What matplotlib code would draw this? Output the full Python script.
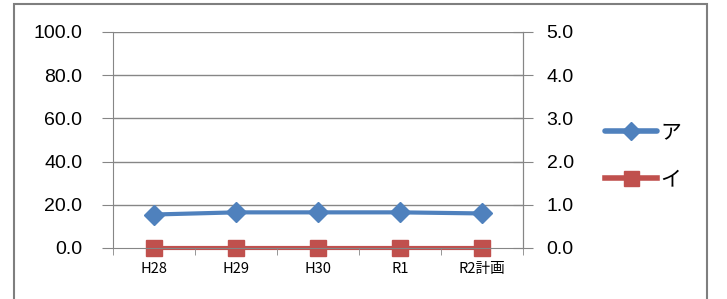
import matplotlib.pyplot as plt
import matplotlib as mpl
from matplotlib.patches import Rectangle
import numpy as np

mpl.rcParams.update({
    "font.family": ["Noto Sans CJK JP", "DejaVu Sans"],
    "figure.dpi": 100,
})

categories = ["H28", "H29", "H30", "R1", "R2計画"]
series_a = [15.5, 16.5, 16.5, 16.5, 16.0]   # left axis
series_i = [0.0, 0.0, 0.0, 0.0, 0.0]        # right axis
left_ticks = [0, 20, 40, 60, 80, 100]
right_ticks = [0, 1, 2, 3, 4, 5]

BLUE = "#4F81BD"
RED = "#C0504D"
GRID = "#868686"

fig = plt.figure(figsize=(7.27, 2.99))
ax = fig.add_axes([113 / 727, 1 - 248 / 299, 410 / 727, 216 / 299])
ax2 = ax.twinx()

x = np.arange(len(categories))
ax.set_xlim(-0.5, len(categories) - 0.5)
ax.set_ylim(0, 100)
ax2.set_ylim(0, 5)

for y in left_ticks[1:]:
    ax.axhline(y, color=GRID, lw=1, zorder=0)

la, = ax.plot(x, series_a, color=BLUE, lw=3, marker="D", ms=10,
              solid_capstyle="round", zorder=3, clip_on=False)
li, = ax2.plot(x, series_i, color=RED, lw=3, marker="s", ms=12,
               zorder=3, clip_on=False)
ax.set_zorder(ax2.get_zorder() + 1)
ax.patch.set_visible(False)

ax.set_yticks(left_ticks)
ax.set_yticklabels([f"{v:.1f}" for v in left_ticks], fontsize=14, family=["Liberation Sans"])
ax2.set_yticks(right_ticks)
ax2.set_yticklabels([f"{v:.1f}" for v in right_ticks], fontsize=14, family=["Liberation Sans"])

ax.set_xticks(x)
ax.set_xticklabels(categories, fontsize=10.5)
ax.set_xticks(np.arange(-0.5, len(categories)), minor=True)
ax.tick_params(axis="x", which="major", length=0, pad=10)
ax.tick_params(axis="x", which="minor", length=5, color=GRID, direction="out")
ax.tick_params(axis="y", length=8, color=GRID, direction="out", pad=14)
ax2.tick_params(axis="y", length=14, color=GRID, direction="inout", pad=10)

for a in (ax, ax2):
    a.spines["top"].set_visible(False)
    for s in ("left", "right", "bottom"):
        a.spines[s].set_color(GRID)
ax2.spines["left"].set_visible(False)
ax2.spines["bottom"].set_visible(False)

leg = fig.legend([la, li], ["ア", "イ"], loc="upper left",
                 bbox_to_anchor=(605 / 727, 1 - 121 / 299),
                 frameon=False, fontsize=15, handlelength=2.5,
                 handletextpad=0.15, labelspacing=1.2,
                 borderpad=0, borderaxespad=0, markerscale=0.9)
for h in leg.legend_handles:
    h.set_linewidth(4)

fig.patches.append(Rectangle((14 / 727, -0.1), 693 / 727, 1 - 4 / 299 + 0.1,
                             transform=fig.transFigure, fill=False,
                             edgecolor="#7f7f7f", lw=1.5))

fig.savefig("out.png", dpi=100)
